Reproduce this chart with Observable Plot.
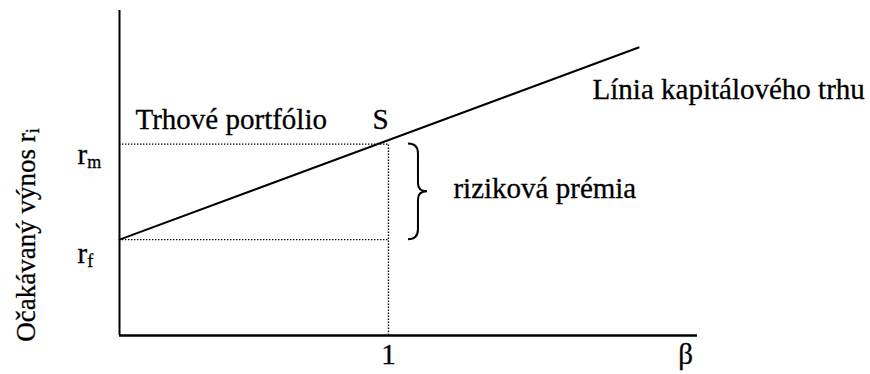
<!DOCTYPE html>
<html>
<head>
<meta charset="utf-8">
<script src="https://cdn.jsdelivr.net/npm/d3@7"></script>
<script src="https://cdn.jsdelivr.net/npm/@observablehq/plot@0.6"></script>
<style>
  html, body { margin: 0; padding: 0; background: #fff; }
  #chart svg { display: block; overflow: visible; }
  #chart svg text, #chart svg tspan { font-family: "Liberation Serif", "Times New Roman", Times, serif !important; }
</style>
</head>
<body>
<div id="chart"></div>
<script>
// ---- data ----
const cmlBeta = [0, 1.93];          // capital market line: beta at start / end
const cmlReturn = [2.95, 8.86];     // expected return at start / end
const riskFree = 2.95;              // r_f
const marketReturn = 5.89;          // r_m
const marketBeta = 1;               // beta of market portfolio S
const xTicks = [1];
const xTickLabels = ["1"];
const yLevelLabels = ["r_m", "r_f"];
const xAxisLabel = "β";
const yAxisLabel = "Očakávaný výnos r_i";
const marketLabel = "Trhové portfólio";
const pointLabel = "S";
const lineLabel = "Línia kapitálového trhu";
const premiumLabel = "riziková prémia";

// ---- build ----
const FONT = "Liberation Serif";
const cml = cmlBeta.map((b, i) => ({b, r: cmlReturn[i]}));
const levels = [marketReturn, riskFree];
const dotted = {stroke: "#000", strokeWidth: 1.4, strokeDasharray: "1.4,1.6"};
const txt = {fontFamily: FONT, fontSize: 29, fill: "#000", stroke: "#000", strokeWidth: 0.3, lineAnchor: "bottom"};

const brace = (index, scales) => {
  const x0 = scales.x(marketBeta) + 20, xm = x0 + 10, xt = x0 + 19;
  const top = scales.y(marketReturn), bot = scales.y(riskFree), mid = (top + bot) / 2;
  const p = document.createElementNS("http://www.w3.org/2000/svg", "path");
  p.setAttribute("d",
    `M${x0},${top} Q${xm},${top} ${xm},${top + 10} L${xm},${mid - 8} Q${xm},${mid} ${xt},${mid}` +
    ` Q${xm},${mid} ${xm},${mid + 8} L${xm},${bot - 10} Q${xm},${bot} ${x0},${bot}`);
  p.setAttribute("fill", "none");
  p.setAttribute("stroke", "#000");
  p.setAttribute("stroke-width", "2");
  return p;
};

const chart = Plot.plot({
  width: 870,
  height: 374,
  marginLeft: 119,
  marginRight: 173,
  marginTop: 10,
  marginBottom: 39,
  x: {domain: [0, 2.149], axis: null},
  y: {domain: [0, 10], axis: null},
  marks: [
    // dotted guides
    Plot.ruleY(levels, {x1: 0, x2: marketBeta, ...dotted}),
    Plot.ruleX([marketBeta], {y1: 0, y2: marketReturn, ...dotted}),
    // axes
    Plot.ruleX([0], {stroke: "#000", strokeWidth: 2}),
    Plot.ruleY([0], {stroke: "#000", strokeWidth: 2.5}),
    // capital market line
    Plot.line(cml, {x: "b", y: "r", stroke: "#000", strokeWidth: 2}),
    brace,
    // tick labels
    Plot.text(xTicks, {x: d => d, text: (d, i) => xTickLabels[i], frameAnchor: "bottom", dy: 28, textAnchor: "middle", ...txt}),
    Plot.text([xAxisLabel], {frameAnchor: "bottom-right", dx: -12, dy: 28, textAnchor: "middle", ...txt}),
    Plot.text([yLevelLabels[0]], {y: () => marketReturn, frameAnchor: "left", dx: -42, dy: 19.5, textAnchor: "start", ...txt}),
    Plot.text([yLevelLabels[1]], {y: () => riskFree, frameAnchor: "left", dx: -42, dy: 23, textAnchor: "start", ...txt}),
    Plot.text([yAxisLabel], {frameAnchor: "left", rotate: -90, dx: -85, dy: 62, textAnchor: "middle", ...txt, fontSize: 27}),
    // annotations
    Plot.text([marketLabel], {x: () => 0, y: () => marketReturn, dx: 16, dy: -15.5, textAnchor: "start", ...txt}),
    Plot.text([pointLabel], {x: () => marketBeta, y: () => marketReturn, dx: -8, dy: -15.5, textAnchor: "middle", ...txt}),
    Plot.text([lineLabel], {x: () => cmlBeta[1], y: () => cmlReturn[1], dx: -46, dy: 51, textAnchor: "start", ...txt}),
    Plot.text([premiumLabel], {x: () => marketBeta, y: () => (marketReturn + riskFree) / 2, dx: 65, dy: 6, textAnchor: "start", ...txt})
  ]
});

// subscripts: "a_b" -> a with subscript b
chart.querySelectorAll("text").forEach(t => {
  const s = t.textContent;
  const k = s.indexOf("_");
  if (k < 0 || t.children.length) return;
  t.textContent = s.slice(0, k);
  const ts = document.createElementNS("http://www.w3.org/2000/svg", "tspan");
  ts.setAttribute("font-size", "18");
  ts.setAttribute("dy", "4.5");
  ts.textContent = s.slice(k + 1);
  t.appendChild(ts);
});

document.getElementById("chart").appendChild(chart);
</script>
</body>
</html>
